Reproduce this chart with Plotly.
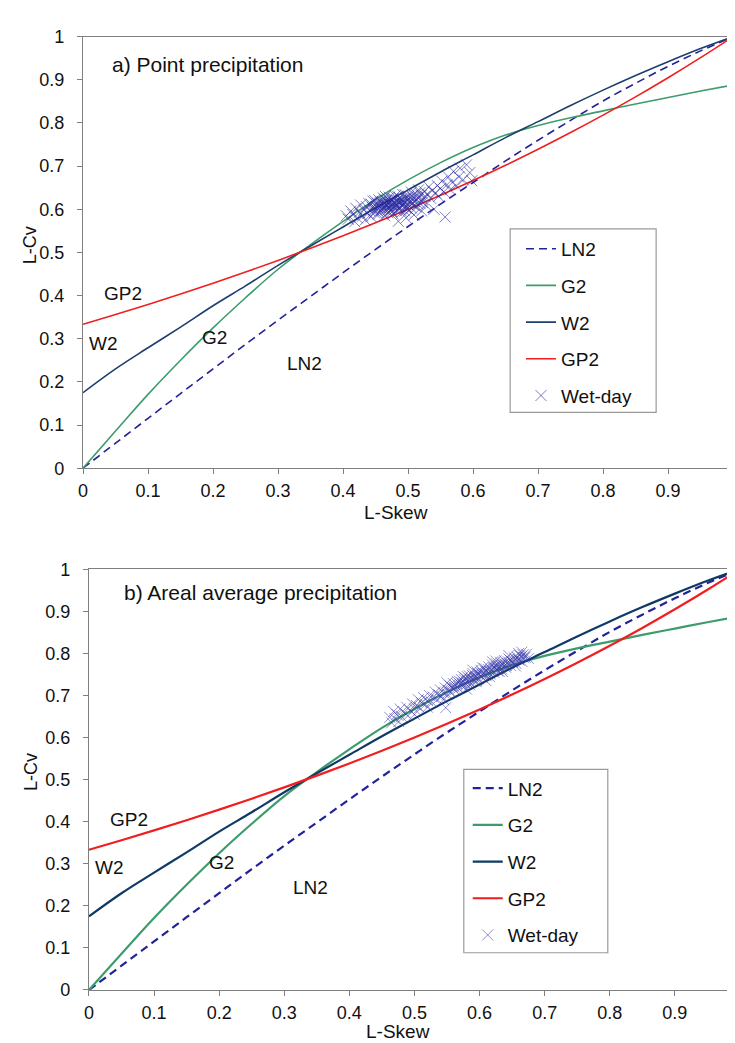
import plotly.graph_objects as go

# ---------------- data ----------------
lskew = [0, 0.05, 0.1, 0.15, 0.2, 0.25, 0.3, 0.35, 0.4, 0.45, 0.5,
         0.55, 0.6, 0.65, 0.7, 0.75, 0.8, 0.85, 0.9, 0.95, 1.0]
ln2 = [0, 0.058, 0.1155, 0.173, 0.23, 0.287, 0.343, 0.398, 0.453, 0.507, 0.56,
       0.612, 0.662, 0.712, 0.76, 0.806, 0.851, 0.892, 0.931, 0.967, 1.0]
g2 = [0, 0.086, 0.171, 0.25, 0.325, 0.395, 0.461, 0.518, 0.572, 0.623, 0.668,
      0.708, 0.743, 0.772, 0.794, 0.812, 0.828, 0.844, 0.859, 0.874, 0.888]
w2 = [0.175, 0.23, 0.279, 0.327, 0.3765, 0.4225, 0.47, 0.515, 0.559, 0.603, 0.645,
      0.6865, 0.726, 0.766, 0.803, 0.8404, 0.876, 0.91, 0.942, 0.9725, 1.0]
gp2 = [0.3333, 0.3559, 0.3793, 0.4035, 0.4286, 0.4545, 0.4815, 0.5094, 0.5385, 0.5686, 0.6,
       0.6327, 0.6667, 0.7021, 0.7391, 0.7778, 0.8182, 0.8605, 0.9048, 0.9512, 1.0]

wet_a_x = [0.405, 0.408, 0.412, 0.415, 0.418, 0.42, 0.422, 0.425, 0.427, 0.43, 0.432, 0.434, 0.436, 0.438,
           0.44, 0.441, 0.443, 0.445, 0.446, 0.448, 0.45, 0.451, 0.452, 0.454, 0.455, 0.456, 0.458, 0.459,
           0.46, 0.461, 0.462, 0.463, 0.464, 0.465, 0.466, 0.467, 0.468, 0.469, 0.47, 0.471, 0.472, 0.473,
           0.474, 0.475, 0.476, 0.477, 0.478, 0.479, 0.48, 0.481, 0.482, 0.483, 0.484, 0.485, 0.486, 0.487,
           0.488, 0.489, 0.49, 0.491, 0.492, 0.493, 0.495, 0.496, 0.497, 0.498, 0.5, 0.501, 0.502, 0.504,
           0.505, 0.506, 0.508, 0.509, 0.51, 0.512, 0.513, 0.515, 0.516, 0.518, 0.52, 0.521, 0.523, 0.525,
           0.527, 0.53, 0.532, 0.535, 0.537, 0.54, 0.542, 0.545, 0.547, 0.55, 0.552, 0.555, 0.557, 0.56,
           0.562, 0.565, 0.568, 0.57, 0.574, 0.578, 0.58, 0.585, 0.59, 0.595, 0.598,
           0.443, 0.447, 0.449, 0.453, 0.457, 0.46, 0.462, 0.464, 0.466, 0.468, 0.47, 0.472, 0.474, 0.476,
           0.478, 0.48, 0.482, 0.484, 0.486, 0.488, 0.49, 0.492, 0.494, 0.496, 0.498, 0.5, 0.503, 0.506,
           0.51, 0.514, 0.518, 0.522, 0.526, 0.455, 0.465, 0.475, 0.485, 0.495, 0.505, 0.515]
wet_a_y = [0.585, 0.577, 0.596, 0.588, 0.571, 0.602, 0.58, 0.593, 0.61, 0.584, 0.598, 0.575, 0.606, 0.59,
           0.613, 0.597, 0.583, 0.604, 0.619, 0.592, 0.607, 0.6, 0.614, 0.588, 0.622, 0.605, 0.611, 0.596,
           0.618, 0.603, 0.626, 0.609, 0.585, 0.615, 0.6, 0.621, 0.608, 0.592, 0.613, 0.628, 0.604, 0.617,
           0.598, 0.61, 0.624, 0.589, 0.615, 0.606, 0.631, 0.612, 0.597, 0.62, 0.607, 0.572, 0.616, 0.627,
           0.603, 0.611, 0.622, 0.594, 0.634, 0.614, 0.605, 0.625, 0.58, 0.617, 0.61, 0.63, 0.598, 0.62,
           0.64, 0.612, 0.626, 0.587, 0.618, 0.636, 0.605, 0.628, 0.645, 0.614, 0.632, 0.596, 0.622, 0.641,
           0.61, 0.635, 0.652, 0.625, 0.643, 0.6, 0.638, 0.655, 0.63, 0.648, 0.665, 0.64, 0.582, 0.657,
           0.675, 0.645, 0.662, 0.688, 0.655, 0.675, 0.695, 0.668, 0.703, 0.685, 0.666,
           0.612, 0.598, 0.62, 0.604, 0.616, 0.6, 0.612, 0.622, 0.611, 0.597, 0.605, 0.619, 0.611, 0.602,
           0.625, 0.614, 0.608, 0.63, 0.6, 0.618, 0.609, 0.621, 0.613, 0.633, 0.602, 0.624, 0.615, 0.631,
           0.608, 0.622, 0.638, 0.616, 0.63, 0.593, 0.63, 0.594, 0.62, 0.596, 0.603, 0.612]

wet_b_x = [0.462, 0.465, 0.468, 0.47, 0.473, 0.476, 0.478, 0.48, 0.484, 0.488, 0.49, 0.493, 0.497, 0.5,
           0.503, 0.506, 0.508, 0.511, 0.514, 0.517, 0.52, 0.523, 0.526, 0.529, 0.532, 0.535, 0.537, 0.54,
           0.542, 0.545, 0.547, 0.55, 0.552, 0.554, 0.556, 0.558, 0.56, 0.562, 0.564, 0.566, 0.568, 0.57,
           0.572, 0.574, 0.576, 0.578, 0.58, 0.582, 0.584, 0.586, 0.588, 0.59, 0.592, 0.594, 0.596, 0.598,
           0.6, 0.602, 0.604, 0.606, 0.608, 0.61, 0.612, 0.614, 0.616, 0.618, 0.62, 0.622, 0.624, 0.626,
           0.628, 0.63, 0.632, 0.634, 0.636, 0.638, 0.64, 0.642, 0.645, 0.648, 0.65, 0.653, 0.656, 0.659,
           0.662, 0.665, 0.668, 0.672, 0.675, 0.52, 0.545, 0.58, 0.61, 0.5, 0.63, 0.55, 0.59, 0.62, 0.66,
           0.548,
           0.561, 0.565, 0.569, 0.573, 0.577, 0.581, 0.585, 0.589, 0.593, 0.597, 0.601, 0.605, 0.609, 0.613,
           0.617, 0.621, 0.625, 0.629, 0.633, 0.637, 0.641, 0.644, 0.647, 0.651, 0.655, 0.658, 0.661, 0.664,
           0.667, 0.67, 0.595, 0.615, 0.635, 0.655, 0.575, 0.605, 0.625, 0.645, 0.665, 0.585]
wet_b_y = [0.648, 0.635, 0.662, 0.645, 0.655, 0.638, 0.668, 0.65, 0.66, 0.672, 0.652, 0.665, 0.68, 0.668,
           0.676, 0.69, 0.671, 0.683, 0.695, 0.679, 0.688, 0.7, 0.685, 0.696, 0.708, 0.69, 0.702, 0.713,
           0.698, 0.706, 0.718, 0.703, 0.712, 0.724, 0.708, 0.719, 0.728, 0.713, 0.722, 0.733, 0.717, 0.727,
           0.738, 0.722, 0.731, 0.742, 0.726, 0.736, 0.747, 0.73, 0.74, 0.752, 0.735, 0.745, 0.756, 0.74,
           0.749, 0.76, 0.743, 0.753, 0.764, 0.747, 0.757, 0.768, 0.751, 0.761, 0.772, 0.755, 0.765, 0.775,
           0.759, 0.769, 0.779, 0.763, 0.773, 0.783, 0.767, 0.777, 0.787, 0.771, 0.781, 0.79, 0.776, 0.786,
           0.795, 0.781, 0.79, 0.798, 0.788, 0.672, 0.69, 0.715, 0.735, 0.655, 0.757, 0.73, 0.76, 0.78, 0.8,
           0.671,
           0.72, 0.728, 0.734, 0.73, 0.737, 0.745, 0.739, 0.748, 0.742, 0.752, 0.755, 0.75, 0.758, 0.762,
           0.757, 0.766, 0.77, 0.764, 0.772, 0.777, 0.771, 0.78, 0.784, 0.778, 0.786, 0.791, 0.784, 0.792,
           0.797, 0.791, 0.733, 0.745, 0.757, 0.77, 0.745, 0.766, 0.782, 0.795, 0.803, 0.725]

tick_vals = [0, 0.1, 0.2, 0.3, 0.4, 0.5, 0.6, 0.7, 0.8, 0.9, 1.0]
tick_text = ["0", "0.1", "0.2", "0.3", "0.4", "0.5", "0.6", "0.7", "0.8", "0.9", "1"]

curve_names = ["LN2", "G2", "W2", "GP2"]
label_x = [0.34, 0.203, 0.032, 0.062]
label_y = [0.243, 0.302, 0.29, 0.405]
panel_titles = ["a) Point precipitation", "b) Areal average precipitation"]

# ---------------- figure ----------------
FONT = "Liberation Sans, Arial, sans-serif"
W, H = 735, 1043
C_LN2, C_G2, C_W2, C_GP2 = "#22229a", "#3d9c6c", "#1c3f6e", "#f01e1e"
XB_MAX = (735 - 77) / (737 - 77)   # panel b is cropped just before L-Skew = 1

fig = go.Figure()

panels = [
    dict(xa="x", ya="y", leg="legend", wx=wet_a_x, wy=wet_a_y, lw=1.6, w2c=C_W2,
         mk="rgba(40,40,160,0.6)"),
    dict(xa="x2", ya="y2", leg="legend2", wx=wet_b_x, wy=wet_b_y, lw=2.2, w2c="#0f3a66",
         mk="rgba(55,55,170,0.55)"),
]

for i, p in enumerate(panels):
    series = [(ln2, C_LN2, "dash"), (g2, C_G2, "solid"), (w2, p["w2c"], "solid"), (gp2, C_GP2, "solid")]
    for name, (vals, col, dash) in zip(curve_names, series):
        fig.add_trace(go.Scatter(
            x=lskew, y=vals, mode="lines", name=name,
            line=dict(color=col, width=p["lw"], dash="8px,5px" if dash == "dash" else "solid",
                      shape="spline", smoothing=1.0),
            xaxis=p["xa"], yaxis=p["ya"], legend=p["leg"], legendgroup=f"{name}{i}",
        ))
    fig.add_trace(go.Scatter(
        x=p["wx"], y=p["wy"], mode="markers", name="Wet-day",
        marker=dict(symbol="x-thin", size=11, color=p["mk"], line=dict(width=1, color=p["mk"])),
        xaxis=p["xa"], yaxis=p["ya"], legend=p["leg"], legendgroup=f"wet{i}",
    ))

axis_common = dict(
    tickmode="array", tickvals=tick_vals, ticktext=tick_text,
    showline=True, linecolor="#7f7f7f", linewidth=1.3,
    ticks="outside", ticklen=5, tickcolor="#7f7f7f", tickwidth=1.2,
    showgrid=False, zeroline=False,
    tickfont=dict(family=FONT, size=18, color="#111"),
)

fig.update_layout(
    width=W, height=H,
    margin=dict(l=0, r=0, t=0, b=0),
    paper_bgcolor="white", plot_bgcolor="white",
    showlegend=True,
    xaxis=dict(domain=[71 / W, 730 / W], range=[0, 1], mirror=True, anchor="y",
               ticklabelstandoff=1, ticklabeloverflow="allow", **axis_common),
    yaxis=dict(domain=[1 - 459 / H, 1 - 19 / H], range=[0, 1], mirror=True, anchor="x",
               ticklabelstandoff=9, **axis_common),
    xaxis2=dict(domain=[77 / W, 1.0], range=[0, XB_MAX], mirror=True, anchor="y2",
                ticklabelstandoff=1, ticklabeloverflow="allow", **axis_common),
    yaxis2=dict(domain=[1 - 991 / H, 1 - 562 / H], range=[0, 1], mirror=False, anchor="x2",
                ticklabelstandoff=9, **axis_common),
    legend=dict(x=515 / W, y=1 - 216 / H, xanchor="left", yanchor="top",
                bgcolor="rgba(0,0,0,0)", borderwidth=0, tracegroupgap=9,
                font=dict(family=FONT, size=19, color="#111")),
    legend2=dict(x=461 / W, y=1 - 766 / H, xanchor="left", yanchor="top",
                 bgcolor="rgba(0,0,0,0)", borderwidth=0, tracegroupgap=9,
                 font=dict(family=FONT, size=19, color="#111")),
    shapes=[
        dict(type="rect", xref="paper", yref="paper", x0=504 / W, x1=652 / W,
             y0=1 - 402 / H, y1=1 - 215 / H, line=dict(color="#9a9a9a", width=1.2)),
        dict(type="rect", xref="paper", yref="paper", x0=457 / W, x1=603 / W,
             y0=1 - 953 / H, y1=1 - 766 / H, line=dict(color="#9a9a9a", width=1.2)),
    ],
)

annotations = []
for i, (xr, yr) in enumerate([("x", "y"), ("x2", "y2")]):
    for name, lx, ly in zip(curve_names, label_x, label_y):
        annotations.append(dict(x=lx, y=ly, xref=xr, yref=yr, text=name, showarrow=False,
                                font=dict(family=FONT, size=19, color="#111")))
# panel titles
annotations.append(dict(x=98 / W, y=1 - 47 / H, xref="paper", yref="paper", text=panel_titles[0],
                        showarrow=False, xanchor="left", yanchor="middle",
                        font=dict(family=FONT, size=21, color="#111")))
annotations.append(dict(x=110 / W, y=1 - 586 / H, xref="paper", yref="paper", text=panel_titles[1],
                        showarrow=False, xanchor="left", yanchor="middle",
                        font=dict(family=FONT, size=21, color="#111")))
# axis titles
for (xt, yt), (lx, ly) in zip([(388, 504), (390, 1033)], [(17, 232), (19, 769)]):
    annotations.append(dict(x=xt / W, y=1 - yt / H, xref="paper", yref="paper", text="L-Skew",
                            showarrow=False, xanchor="center", yanchor="middle",
                            font=dict(family=FONT, size=19, color="#111")))
    annotations.append(dict(x=lx / W, y=1 - ly / H, xref="paper", yref="paper", text="L-Cv",
                            showarrow=False, xanchor="center", yanchor="middle", textangle=-90,
                            font=dict(family=FONT, size=18, color="#111")))
# the last tick label of panel b sits on the cropped right edge
annotations.append(dict(x=737 / W, y=1 - 1013 / H, xref="paper", yref="paper", text=tick_text[-1],
                        showarrow=False, xanchor="center", yanchor="middle",
                        font=dict(family=FONT, size=18, color="#111")))
fig.update_layout(annotations=annotations)

fig.write_html("out.html")
